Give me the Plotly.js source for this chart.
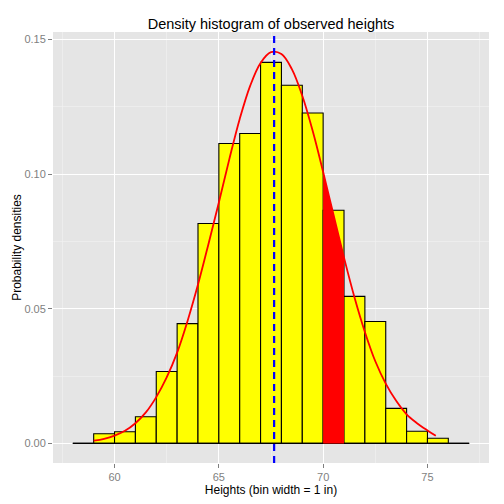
<!DOCTYPE html>
<html>
<head>
<meta charset="utf-8">
<script src="https://cdn.plot.ly/plotly-3.0.1.min.js"></script>
<style>html,body{margin:0;padding:0;background:#fff}#chart{width:504px;height:504px}</style>
</head>
<body>
<div id="chart"></div>
<script>
// Histogram bins (left edges 58..76, width 1 inch) and densities
var binEdges = [58, 59, 60, 61, 62, 63, 64, 65, 66, 67, 68, 69, 70, 71, 72, 73, 74, 75, 76, 77];
var densities = [0, 0.0036, 0.0043, 0.0099, 0.0267, 0.0445, 0.0817, 0.1114, 0.1151, 0.1415, 0.1330, 0.1227, 0.0866, 0.0546, 0.0453, 0.0130, 0.0045, 0.0019, 0];

// Fitted density curve
var curveX = [59, 59.5, 60, 60.5, 61, 61.5, 62, 62.5, 63, 63.5, 64, 64.5, 65, 65.5, 66, 66.5, 67, 67.5, 68, 68.5, 69, 69.5, 70, 70.5, 71, 71.5, 72, 72.5, 73, 73.5, 74, 74.5, 75, 75.4];
var curveY = [0.0010, 0.0017, 0.0029, 0.0047, 0.0075, 0.0115, 0.0172, 0.0245, 0.0337, 0.0455, 0.0590, 0.0740, 0.0895, 0.1055, 0.1205, 0.1328, 0.1413, 0.1453, 0.1446, 0.1390, 0.1291, 0.1160, 0.1008, 0.0848, 0.0690, 0.0543, 0.0414, 0.0305, 0.0222, 0.0158, 0.0108, 0.0075, 0.0048, 0.0028];

// Shaded interval under the curve
var shadeFrom = 70;
var shadeTo = 71;

// Mean height (dashed line)
var meanHeight = 67.65;

// Tick labels
var xTicks = [60, 65, 70, 75];
var yTicks = [0, 0.05, 0.10, 0.15];
var yTickText = ["0.00", "0.05", "0.10", "0.15"];

var titleText = "Density histogram of observed heights";
var xTitle = "Heights (bin width = 1 in)";
var yTitle = "Probability densities";

var barX = [], barY = [];
for (var i = 0; i < densities.length; i++) {
  barX.push((binEdges[i] + binEdges[i + 1]) / 2);
  barY.push(densities[i]);
}

var shX = [shadeFrom], shY = [0];
for (var j = 0; j < curveX.length; j++) {
  if (curveX[j] >= shadeFrom && curveX[j] <= shadeTo) { shX.push(curveX[j]); shY.push(curveY[j]); }
}
shX.push(shadeTo); shY.push(0);

var traces = [
  { type: 'scatter', mode: 'lines', x: [binEdges[0], binEdges[binEdges.length - 1]], y: [0, 0],
    line: { color: '#000', width: 1.2 }, hoverinfo: 'skip', showlegend: false },
  { type: 'bar', x: barX, y: barY, width: 1,
    marker: { color: '#FFFF00', line: { color: '#000', width: 1.1 } }, showlegend: false },
  { type: 'scatter', mode: 'lines', x: shX, y: shY, fill: 'toself', fillcolor: '#FF0000',
    line: { color: '#FF0000', width: 0 }, showlegend: false },
  { type: 'scatter', mode: 'lines', x: curveX, y: curveY,
    line: { color: '#FF0000', width: 1.8, shape: 'spline', smoothing: 1 }, showlegend: false }
];

var fontFam = 'Liberation Sans, Arial, sans-serif';
var layout = {
  width: 504, height: 504,
  margin: { l: 53, r: 15, t: 32, b: 41 },
  paper_bgcolor: '#FFFFFF',
  plot_bgcolor: '#E5E5E5',
  font: { family: fontFam, color: '#000' },
  bargap: 0,
  title: { text: titleText, font: { size: 14.5, color: '#000', family: fontFam },
           x: 0.5, xref: 'paper', xanchor: 'center', y: 1 - 24 / 504, yref: 'container', yanchor: 'middle' },
  xaxis: {
    range: [57.05, 77.95], tickmode: 'array', tickvals: xTicks, ticktext: xTicks.map(String),
    ticks: 'outside', ticklen: 4, tickwidth: 1, tickcolor: '#7F7F7F',
    tickfont: { size: 11, color: '#7F7F7F' },
    showgrid: true, gridcolor: '#FFFFFF', gridwidth: 1.2, zeroline: false, showline: false,
    minor: { tickmode: 'array', tickvals: [57.5, 62.5, 67.5, 72.5, 77.5], showgrid: true, gridcolor: '#F2F2F2', gridwidth: 0.6, ticks: '' },
    title: { text: xTitle, font: { size: 12, color: '#000' }, standoff: 2 }
  },
  yaxis: {
    range: [-0.00728, 0.1528], tickmode: 'array', tickvals: yTicks, ticktext: yTickText,
    ticks: 'outside', ticklen: 4, tickwidth: 1, tickcolor: '#7F7F7F',
    tickfont: { size: 11, color: '#7F7F7F' },
    showgrid: true, gridcolor: '#FFFFFF', gridwidth: 1.2, zeroline: false, showline: false,
    minor: { tickmode: 'array', tickvals: [0.025, 0.075, 0.125], showgrid: true, gridcolor: '#F2F2F2', gridwidth: 0.6, ticks: '' },
    title: { text: yTitle, font: { size: 12, color: '#000' }, standoff: 0 }
  },
  shapes: [
    { type: 'line', xref: 'x', yref: 'paper', x0: meanHeight, x1: meanHeight, y0: 0, y1: 1,
      line: { color: '#0000FF', width: 2.2, dash: '7px,5px' }, layer: 'above' }
  ]
};

Plotly.newPlot('chart', traces, layout, { displayModeBar: false, staticPlot: true });
</script>
</body>
</html>
